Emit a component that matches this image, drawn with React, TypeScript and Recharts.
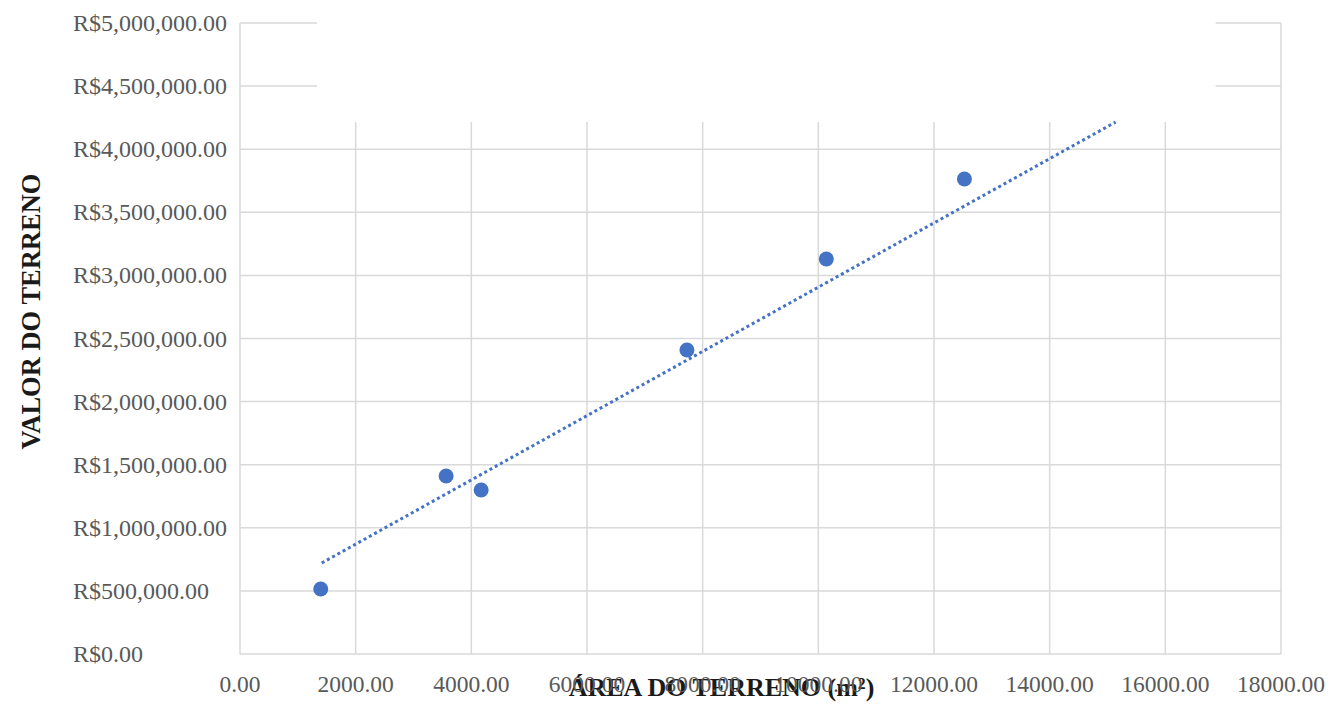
import React from 'react';
import { ComposedChart, Scatter, Line, XAxis, YAxis, CartesianGrid, ReferenceArea, Label } from 'recharts';

// point values
const areaM2 = [1396, 3564, 4170, 7728, 10138, 12526];
const valorReais = [515000, 1410000, 1300000, 2409000, 3130000, 3764000];

// trend line ends (dotted)
const trendArea = [1413, 15140];
const trendValor = [721000, 4215000];

const xTicks = [0, 2000, 4000, 6000, 8000, 10000, 12000, 14000, 16000, 18000];
const yTicks = [0, 500000, 1000000, 1500000, 2000000, 2500000, 3000000, 3500000, 4000000, 4500000, 5000000];

// empty white title box that hides the top of the grid
const titleBox = { x1: 1332, x2: 16869, y1: 4215000, y2: 5100000 };

const points = areaM2.map((x, i) => ({ x, y: valorReais[i] }));
const trend = trendArea.map((x, i) => ({ x, y: trendValor[i] }));

const BLUE = '#4472C4';
const GRID = '#d9d9d9';
const TICK = '#595959';
const FONT = '"Liberation Serif", "Times New Roman", serif';

const fmtMoney = (v: number) =>
  'R$' + v.toLocaleString('en-US', { minimumFractionDigits: 2, maximumFractionDigits: 2 });

const XTick = (props: any) => {
  const { x, y, payload } = props;
  return (
    <text x={x} y={y} dy={38} textAnchor="middle" fill={TICK} fontSize={23.5} fontFamily={FONT}>
      {Number(payload.value).toFixed(2)}
    </text>
  );
};

// labels are left aligned in the reference
const YTick = (props: any) => {
  const { x, y, payload } = props;
  return (
    <text x={x} y={y} dy={8} textAnchor="start" fill={TICK} fontSize={24} fontFamily={FONT}>
      {fmtMoney(payload.value)}
    </text>
  );
};

export default function App() {
  return (
    <div style={{ position: 'absolute', left: 0, top: 0, background: '#fff' }}>
      <ComposedChart width={1330} height={704} margin={{ top: 23, right: 49, left: 0, bottom: 0 }}>
        <CartesianGrid stroke={GRID} strokeWidth={1.5} />
        <XAxis
          type="number"
          dataKey="x"
          domain={[0, 18000]}
          ticks={xTicks}
          axisLine={false}
          tickLine={false}
          tickSize={0}
          tickMargin={0}
          height={50}
          tick={<XTick />}
          interval={0}
        >
          <Label
            content={(p: any) => {
              const vb = p.viewBox;
              return (
                <text
                  x={vb.x + vb.width / 2 - 39}
                  y={vb.y + 42}
                  textAnchor="middle"
                  fontSize={26}
                  fontWeight="bold"
                  fontFamily={FONT}
                  fill="#1a1a1a"
                >
                  ÁREA DO TERRENO (m²)
                </text>
              );
            }}
          />
        </XAxis>
        <YAxis
          type="number"
          dataKey="y"
          domain={[0, 5000000]}
          ticks={yTicks}
          axisLine={false}
          tickLine={false}
          tickSize={0}
          tickMargin={167}
          width={240}
          tick={<YTick />}
          interval={0}
        >
          <Label
            content={(p: any) => {
              const vb = p.viewBox;
              const cx = 31;
              const cy = vb.y + vb.height / 2 - 27;
              return (
                <text
                  x={cx}
                  y={cy}
                  transform={`rotate(-90, ${cx}, ${cy})`}
                  textAnchor="middle"
                  dominantBaseline="central"
                  fontSize={26.5}
                  fontWeight="bold"
                  fontFamily={FONT}
                  fill="#1a1a1a"
                >
                  VALOR DO TERRENO
                </text>
              );
            }}
          />
        </YAxis>
        <Line
          data={trend}
          dataKey="y"
          stroke={BLUE}
          strokeWidth={3}
          strokeDasharray="3 3"
          dot={false}
          activeDot={false}
          isAnimationActive={false}
          legendType="none"
        />
        <Scatter
          data={points}
          dataKey="y"
          fill={BLUE}
          isAnimationActive={false}
          shape={(p: any) => <circle cx={p.cx} cy={p.cy} r={7.5} fill={BLUE} />}
        />
        <ReferenceArea
          x1={titleBox.x1}
          x2={titleBox.x2}
          y1={titleBox.y1}
          y2={titleBox.y2}
          fill="#ffffff"
          fillOpacity={1}
          stroke="none"
          ifOverflow="visible"
        />
      </ComposedChart>
    </div>
  );
}
